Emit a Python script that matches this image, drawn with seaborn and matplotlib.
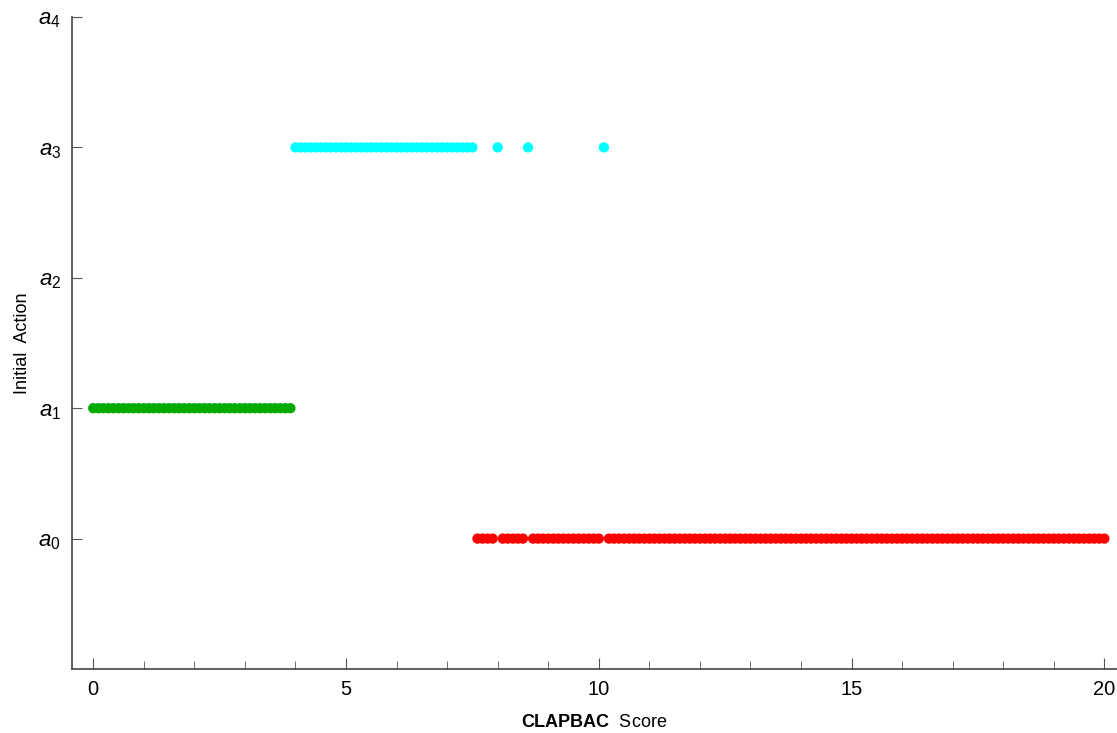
import numpy as np
import pandas as pd
import matplotlib
matplotlib.use("Agg")
import matplotlib.pyplot as plt
import seaborn as sns
from matplotlib.ticker import MultipleLocator

# score grid (step 0.1) and the action picked at each score
scores = np.round(np.arange(0, 201) * 0.1, 1)
green_range = (0.0, 3.9)       # action a1
cyan_range = (4.0, 7.5)        # action a3
cyan_extra = [8.0, 8.6, 10.1]  # isolated a3 points inside the red run
# everything else -> action a0 (red)

action_labels = ["$a_0$", "$a_1$", "$a_2$", "$a_3$", "$a_4$"]
palette = {1: "#00aa00", 3: "#00ffff", 0: "#ff0000"}

actions = []
for s in scores:
    if green_range[0] <= s <= green_range[1]:
        actions.append(1)
    elif cyan_range[0] <= s <= cyan_range[1] or s in cyan_extra:
        actions.append(3)
    else:
        actions.append(0)

df = pd.DataFrame({"score": scores, "action": actions})

sns.set_style("ticks")
plt.rcParams["font.family"] = ["Liberation Sans", "DejaVu Sans"]
plt.rcParams["mathtext.fontset"] = "custom"
plt.rcParams["mathtext.it"] = "Liberation Sans:italic"
plt.rcParams["mathtext.rm"] = "Liberation Sans"
plt.rcParams["mathtext.bf"] = "Liberation Sans:bold"
plt.rcParams["text.color"] = "black"
plt.rcParams["axes.labelcolor"] = "black"

fig = plt.figure(figsize=(11.17, 7.33), dpi=100)
ax = fig.add_axes([72 / 1117, (733 - 669) / 733, 1 - 72 / 1117, (669 - 17) / 733])

sns.scatterplot(data=df, x="score", y="action", hue="action", palette=palette,
                s=55, linewidth=0, legend=False, ax=ax)

ax.set_xlim(-0.42, 20.25)
ax.set_ylim(-1, 4)
ax.set_yticks(range(5))
ax.set_yticklabels(action_labels)
ax.xaxis.set_minor_locator(MultipleLocator(1))
ax.set_xticks([0, 5, 10, 15, 20])
ax.set_xticklabels(["0", "5", "10", "15", "20"])

ax.tick_params(axis="both", which="both", direction="in", colors="#555555",
               labelcolor="black", labelsize=14.5)
ax.tick_params(axis="x", which="major", length=8, pad=8)
ax.tick_params(axis="x", which="minor", length=6)
ax.tick_params(axis="y", which="major", length=7, pad=8, labelsize=16)

sns.despine(ax=ax, top=True, right=True)
for sp in ["left", "bottom"]:
    ax.spines[sp].set_color("#444444")
    ax.spines[sp].set_linewidth(1.2)

ax.set_xlabel(r"$\mathbf{CLAPBAC}$  Score", fontsize=13, labelpad=11)
ax.set_ylabel("Initial  Action", fontsize=13, labelpad=5)

fig.savefig("out.png", dpi=100)
